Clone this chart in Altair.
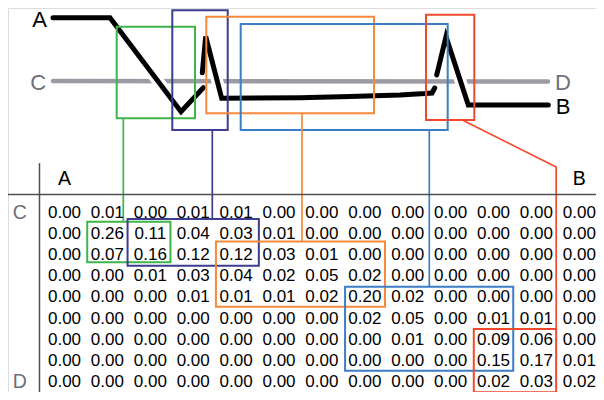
import altair as alt
import pandas as pd

# ---------------- data ----------------
# alignment matrix (rows C..D, columns A..B)
matrix = [
    [0.00, 0.01, 0.00, 0.01, 0.01, 0.00, 0.00, 0.00, 0.00, 0.00, 0.00, 0.00, 0.00],
    [0.00, 0.26, 0.11, 0.04, 0.03, 0.01, 0.00, 0.00, 0.00, 0.00, 0.00, 0.00, 0.00],
    [0.00, 0.07, 0.16, 0.12, 0.12, 0.03, 0.01, 0.00, 0.00, 0.00, 0.00, 0.00, 0.00],
    [0.00, 0.00, 0.01, 0.03, 0.04, 0.02, 0.05, 0.02, 0.00, 0.00, 0.00, 0.00, 0.00],
    [0.00, 0.00, 0.00, 0.01, 0.01, 0.01, 0.02, 0.20, 0.02, 0.00, 0.00, 0.00, 0.00],
    [0.00, 0.00, 0.00, 0.00, 0.00, 0.00, 0.00, 0.02, 0.05, 0.00, 0.01, 0.01, 0.00],
    [0.00, 0.00, 0.00, 0.00, 0.00, 0.00, 0.00, 0.00, 0.01, 0.00, 0.09, 0.06, 0.00],
    [0.00, 0.00, 0.00, 0.00, 0.00, 0.00, 0.00, 0.00, 0.00, 0.00, 0.15, 0.17, 0.01],
    [0.00, 0.00, 0.00, 0.00, 0.00, 0.00, 0.00, 0.00, 0.00, 0.00, 0.02, 0.03, 0.02],
]

# signal A -> B (time, level), broken into strokes
sig_t = [53, 110, 181, 203.3,
         202.3, 205.7, 221.7, 300, 350, 400, 425, 432, 434.7,
         436.7, 446, 468.3, 548.3]
sig_v = [17.7, 17.7, 111.7, 87.7,
         72.7, 36.5, 98.3, 97.8, 96.5, 95.0, 93.6, 93.0, 88.0,
         75.0, 36.7, 105.0, 105.0]
sig_stroke = [0, 0, 0, 0,
              1, 1, 1, 1, 1, 1, 1, 1, 1,
              2, 2, 2, 2]

# signal C -> D
ref_t = [53, 548]
ref_v = [81, 81.5]

# segment names and colours
seg_names = ["green", "navy", "orange", "blue", "red"]
seg_colors = ["#3db54b", "#3d3d8e", "#f6893b", "#3b7dc6", "#ef4a2d"]

# boxes around signal pieces (time range, level range)
top_t0 = [116.7, 172.3, 206.3, 240.7, 426.0]
top_t1 = [195.0, 227.7, 374.0, 447.7, 474.3]
top_v0 = [26.7, 10.3, 16.7, 24.0, 14.7]
top_v1 = [118.3, 130.0, 113.3, 130.0, 120.0]

# boxes in the matrix (column range, row range)
tab_c0 = [1, 2, 4, 7, 10]
tab_c1 = [2, 4, 7, 10, 11]
tab_r0 = [1, 1, 2, 4, 6]
tab_r1 = [2, 2, 4, 7, 8]

# connectors (from signal box to matrix box)
con_name = ["green", "green", "navy", "navy", "orange", "orange",
            "blue", "blue", "red", "red", "red"]
con_t = [123.3, 123.3, 212.3, 212.3, 302.0, 302.0,
         429.3, 429.3, 463.3, 556.2, 556.2]
con_v = [118.3, 221.7, 130.0, 219.0, 113.3, 241.7,
         130.0, 286.7, 120.5, 167.0, 329.0]
con_order = [0, 1, 0, 1, 0, 1, 0, 1, 0, 1, 2]

FONT = "Liberation Sans"

# ---------------- scales ----------------
top_x = alt.Scale(domain=[8, 596], nice=False, zero=False)
top_y = alt.Scale(domain=[8, 392], nice=False, zero=False, reverse=True)
tab_x = alt.Scale(domain=[-1.317, 12.389], nice=False, zero=False)
tab_y = alt.Scale(domain=[-9.608, 8.505], nice=False, zero=False, reverse=True)
col_scale = alt.Scale(domain=seg_names, range=seg_colors)

# ---------------- top part ----------------
sig_df = pd.DataFrame({"t": sig_t, "v": sig_v, "s": sig_stroke,
                       "o": list(range(len(sig_t)))})
ref_df = pd.DataFrame({"t": ref_t, "v": ref_v, "o": [0, 1]})

ref_line = alt.Chart(ref_df).mark_line(
    color="#9a9ba4", strokeWidth=4.5, strokeCap="round"
).encode(
    x=alt.X("t:Q", scale=top_x, axis=None),
    y=alt.Y("v:Q", scale=top_y, axis=None),
    order="o:Q",
)

halo = alt.Chart(sig_df).mark_line(
    color="white", strokeWidth=12, strokeCap="butt", strokeJoin="miter"
).encode(
    x=alt.X("t:Q", scale=top_x, axis=None),
    y=alt.Y("v:Q", scale=top_y, axis=None),
    detail="s:N",
    order="o:Q",
)

sig_line = alt.Chart(sig_df).mark_line(
    color="black", strokeWidth=5, strokeCap="round", strokeJoin="miter"
).encode(
    x=alt.X("t:Q", scale=top_x, axis=None),
    y=alt.Y("v:Q", scale=top_y, axis=None),
    detail="s:N",
    order="o:Q",
)

lab_df = pd.DataFrame({
    "t": [39.5, 38.3, 563.0, 563.0],
    "v": [19.0, 82.0, 82.0, 105.5],
    "txt": ["A", "C", "D", "B"],
    "c": ["#000000", "#6c7079", "#6c7079", "#000000"],
})
top_labels = alt.Chart(lab_df).mark_text(
    font=FONT, fontSize=22, align="center", baseline="middle", dy=1
).encode(
    x=alt.X("t:Q", scale=top_x, axis=None),
    y=alt.Y("v:Q", scale=top_y, axis=None),
    text="txt:N",
    color=alt.Color("c:N", scale=None),
)

top_box_df = pd.DataFrame({"name": seg_names, "t0": top_t0, "t1": top_t1,
                           "v0": top_v0, "v1": top_v1})
top_boxes = alt.Chart(top_box_df).mark_rect(
    filled=False, strokeWidth=2
).encode(
    x=alt.X("t0:Q", scale=top_x, axis=None), x2="t1:Q",
    y=alt.Y("v0:Q", scale=top_y, axis=None), y2="v1:Q",
    stroke=alt.Color("name:N", scale=col_scale, legend=None),
)

con_df = pd.DataFrame({"name": con_name, "t": con_t, "v": con_v, "o": con_order})
connectors = alt.Chart(con_df).mark_line(strokeWidth=1.7).encode(
    x=alt.X("t:Q", scale=top_x, axis=None),
    y=alt.Y("v:Q", scale=top_y, axis=None),
    color=alt.Color("name:N", scale=col_scale, legend=None),
    detail="name:N",
    order="o:Q",
)

top = alt.layer(ref_line, halo, sig_line, top_boxes, connectors, top_labels)

# ---------------- matrix ----------------
cells = pd.DataFrame([
    {"c": j, "r": i, "txt": f"{val:.2f}"}
    for i, row in enumerate(matrix) for j, val in enumerate(row)
])
cell_text = alt.Chart(cells).mark_text(
    font=FONT, fontSize=17, align="center", baseline="middle", dy=1, color="black"
).encode(
    x=alt.X("c:Q", scale=tab_x, axis=None),
    y=alt.Y("r:Q", scale=tab_y, axis=None),
    text="txt:N",
)

n_rows = len(matrix)
n_cols = len(matrix[0])
hdr_df = pd.DataFrame({
    "c": [0, n_cols - 1, -1.04, -1.04],
    "r": [-1.59, -1.59, 0, n_rows - 1],
    "txt": ["A", "B", "C", "D"],
    "col": ["#000000", "#000000", "#6c7079", "#6c7079"],
})
hdr_text = alt.Chart(hdr_df).mark_text(
    font=FONT, fontSize=19.5, align="center", baseline="middle", dy=1
).encode(
    x=alt.X("c:Q", scale=tab_x, axis=None),
    y=alt.Y("r:Q", scale=tab_y, axis=None),
    text="txt:N",
    color=alt.Color("col:N", scale=None),
)

rule_df = pd.DataFrame({
    "c0": [-1.5, -0.583], "c1": [12.6, -0.583],
    "r0": [-0.81, -2.29], "r1": [-0.81, 8.6],
})
rules = alt.Chart(rule_df).mark_rule(color="#505050", strokeWidth=1.5).encode(
    x=alt.X("c0:Q", scale=tab_x, axis=None), x2="c1:Q",
    y=alt.Y("r0:Q", scale=tab_y, axis=None), y2="r1:Q",
)

# small insets so that overlapping boxes remain distinguishable
pad_x = [0.03, -0.03, 0.03, 0.04, 0.04]
pad_y0 = [-0.03, -0.16, -0.09, 0.04, 0.03]
pad_y1 = [-0.11, 0.05, -0.02, 0.0, 0.02]
tab_box_df = pd.DataFrame({
    "name": seg_names,
    "x0": [c - 0.5 + p for c, p in zip(tab_c0, pad_x)],
    "x1": [c + 0.5 - p for c, p in zip(tab_c1, pad_x)],
    "y0": [r - 0.5 + p for r, p in zip(tab_r0, pad_y0)],
    "y1": [r + 0.5 + p for r, p in zip(tab_r1, pad_y1)],
})
tab_boxes = alt.Chart(tab_box_df).mark_rect(filled=False, strokeWidth=2).encode(
    x=alt.X("x0:Q", scale=tab_x, axis=None), x2="x1:Q",
    y=alt.Y("y0:Q", scale=tab_y, axis=None), y2="y1:Q",
    stroke=alt.Color("name:N", scale=col_scale, legend=None),
)

table = alt.layer(rules, cell_text, hdr_text, tab_boxes)

chart = alt.layer(top, table).resolve_scale(
    x="independent", y="independent", color="independent", stroke="independent"
).properties(
    width=588, height=384, padding=0, autosize=alt.AutoSizeParams(type="none")
).configure_view(stroke=None).configure(background="white")

chart.save("out.html", embed_options={"renderer": "svg", "actions": False})
